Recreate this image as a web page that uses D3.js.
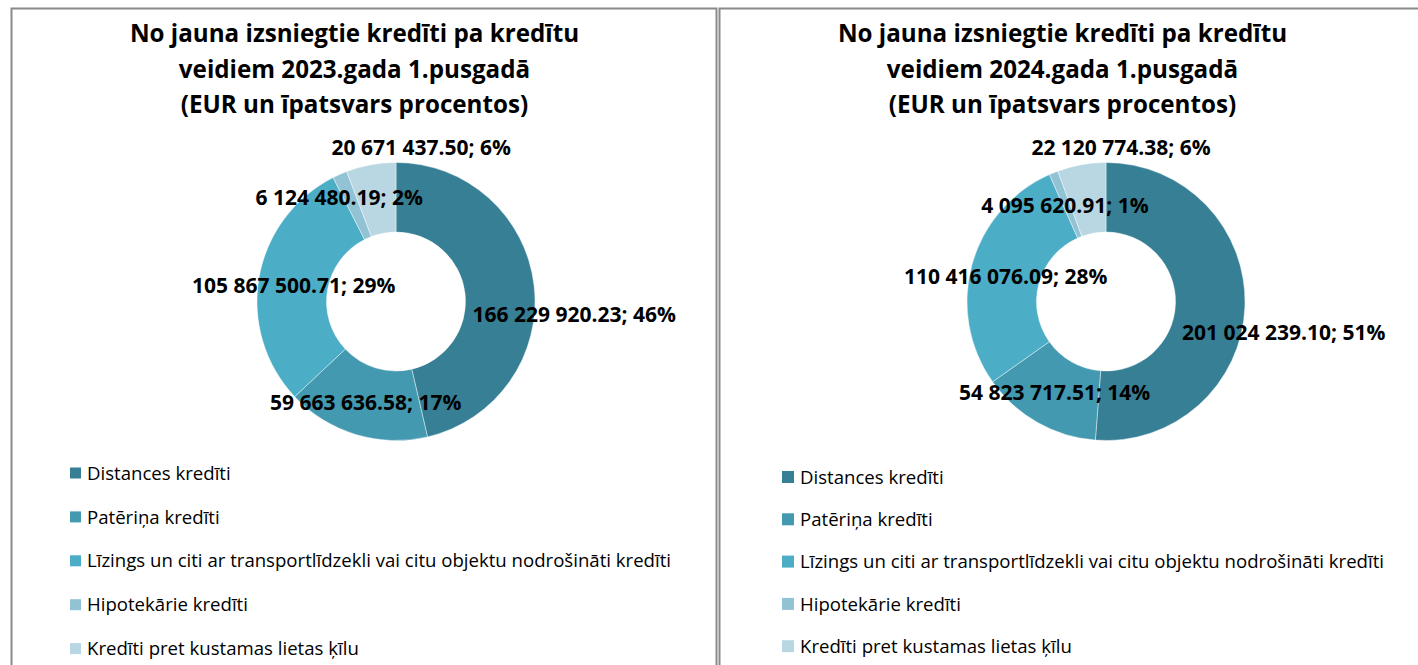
<!DOCTYPE html>
<html><head><meta charset="utf-8">
<script src="https://cdn.jsdelivr.net/npm/d3@7"></script>
<style>body{margin:0;background:#fff}svg{display:block}text{font-variant-ligatures:none}</style>
</head><body>
<svg id="c" width="1418" height="665"></svg>
<script>
// ---- data ----
const categories = [
  "Distances kredīti",
  "Patēriņa kredīti",
  "Līzings un citi ar transportlīdzekli vai citu objektu nodrošināti kredīti",
  "Hipotekārie kredīti",
  "Kredīti pret kustamas lietas ķīlu"
];
const values2023 = [166229920.23, 59663636.58, 105867500.71, 6124480.19, 20671437.50];
const values2024 = [201024239.10, 54823717.51, 110416076.09, 4095620.91, 22120774.38];
const title2023 = ["No jauna izsniegtie kredīti pa kredītu", "veidiem 2023.gada 1.pusgadā", "(EUR un īpatsvars procentos)"];
const title2024 = ["No jauna izsniegtie kredīti pa kredītu", "veidiem 2024.gada 1.pusgadā", "(EUR un īpatsvars procentos)"];

// ---- styles / layout ----
const colors = ["#367f94", "#4299b0", "#4badc6", "#92c3d4", "#b8d7e3"];
const FONT = "'Open Sans', Lato, sans-serif";
const panels = [
  { values: values2023, title: title2023, px: 11.5, cx: 396, cy: 301.5, tx: 354.5,
    legY: 473, legStep: 43.9, legX: 70, legSz: 11, legTx: 87,
    offs: [[74.7, 24.8], [0, 1.5], [0.4, 2], [-14.7, -8.8], [44, -52]] },
  { values: values2024, title: title2024, px: 719.5, cx: 1106, cy: 301.5, tx: 1062.5,
    legY: 477, legStep: 42.3, legX: 782, legSz: 12, legTx: 800,
    offs: [[73.6, 26.5], [0, 0.5], [0.3, 2.4], [-1.7, 0], [33.4, -51]] }
];
const outerR = 139, innerR = 69.5;

const svg = d3.select("#c");
svg.append("rect").attr("width", 1418).attr("height", 665).attr("fill", "#fff");

const numFmt = v => d3.format(",.2f")(v).replace(/,/g, " ");
function percents(vals) {
  const total = d3.sum(vals);
  const raw = vals.map(v => v / total * 100);
  const fl = raw.map(Math.floor);
  const rest = 100 - d3.sum(fl);
  const order = d3.range(vals.length).sort((a, b) => (raw[b] - fl[b]) - (raw[a] - fl[a]));
  for (let i = 0; i < rest; i++) fl[order[i]] += 1;
  return fl;
}

panels.forEach(p => {
  const g = svg.append("g");
  g.append("rect").attr("x", p.px).attr("y", 8.5).attr("width", 705).attr("height", 700)
    .attr("fill", "none").attr("stroke", "#8a8a8a").attr("stroke-width", 2);

  const t = g.append("text").attr("text-anchor", "middle").attr("font-family", FONT)
    .attr("font-weight", "bold").attr("font-size", 24.2).attr("fill", "#000");
  p.title.forEach((line, i) => {
    t.append("tspan").attr("x", p.tx).attr("y", 42 + i * 35.5).text(line);
  });

  const pie = d3.pie().sort(null).value(d => d).startAngle(0).endAngle(2 * Math.PI);
  const arcs = pie(p.values);
  const arc = d3.arc().innerRadius(innerR).outerRadius(outerR);
  const mid = d3.arc().innerRadius((innerR + outerR) / 2).outerRadius((innerR + outerR) / 2);
  const dg = g.append("g").attr("transform", `translate(${p.cx},${p.cy})`);
  dg.selectAll("path").data(arcs).join("path")
    .attr("d", arc).attr("fill", (d, i) => colors[i])
    .attr("stroke", "#ffffff").attr("stroke-width", 0.6).attr("stroke-opacity", 0.7);

  const pct = percents(p.values);
  dg.selectAll("text.lbl").data(arcs).join("text").attr("class", "lbl")
    .attr("x", (d, i) => mid.centroid(d)[0] + p.offs[i][0])
    .attr("y", (d, i) => mid.centroid(d)[1] + p.offs[i][1])
    .attr("dy", "0.36em")
    .attr("text-anchor", "middle").attr("font-family", FONT).attr("font-weight", "bold")
    .attr("font-size", 21).attr("fill", "#000")
    .text((d, i) => `${numFmt(d.data)}; ${pct[i]}%`);

  const lg = g.append("g");
  categories.forEach((c, i) => {
    const y = p.legY + i * p.legStep;
    lg.append("rect").attr("x", p.legX).attr("y", y - p.legSz / 2)
      .attr("width", p.legSz).attr("height", p.legSz).attr("fill", colors[i]);
    lg.append("text").attr("x", p.legTx).attr("y", y).attr("dy", "0.36em")
      .attr("font-family", FONT).attr("font-size", 18.6).attr("fill", "#000").text(c);
  });
});
</script>
</body></html>
